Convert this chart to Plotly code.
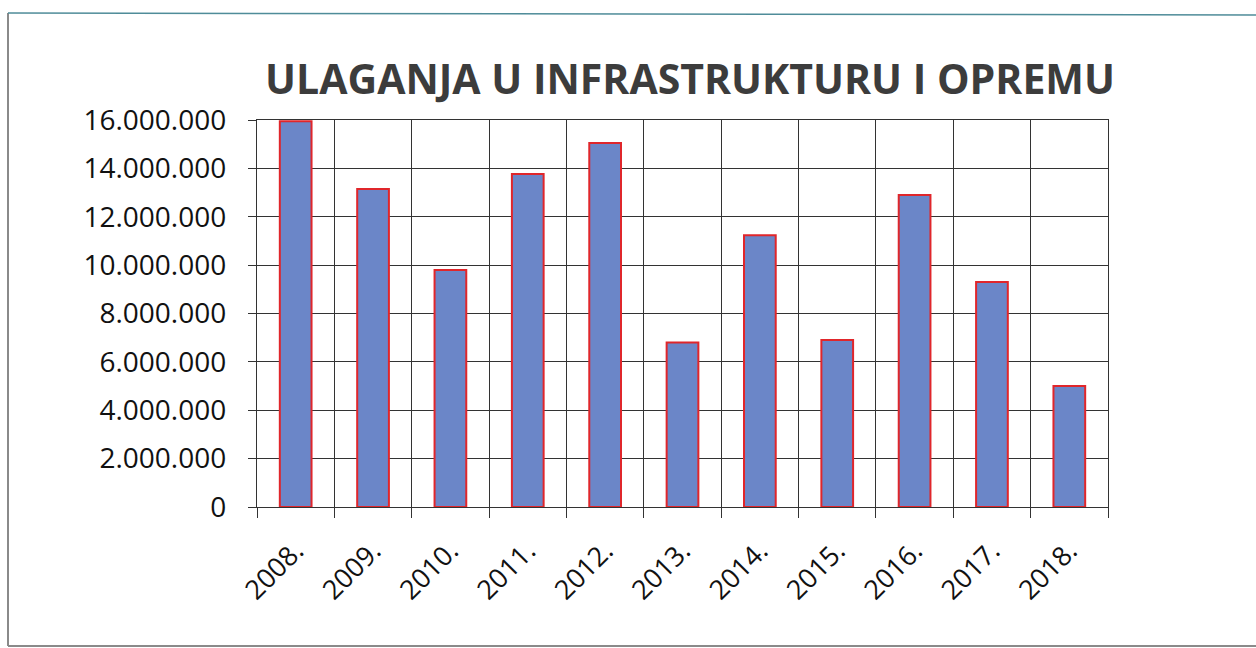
import plotly.graph_objects as go

years = ["2008.", "2009.", "2010.", "2011.", "2012.", "2013.", "2014.", "2015.", "2016.", "2017.", "2018."]
values = [15950000, 13150000, 9800000, 13770000, 15050000, 6800000, 11240000, 6900000, 12900000, 9300000, 5000000]
y_ticks = [0, 2000000, 4000000, 6000000, 8000000, 10000000, 12000000, 14000000, 16000000]
y_labels = ["0", "2.000.000", "4.000.000", "6.000.000", "8.000.000", "10.000.000",
            "12.000.000", "14.000.000", "16.000.000"]
title_text = "ULAGANJA U INFRASTRUKTURU I OPREMU"

W, H = 1256, 648
L, R, T, B = 257, 148, 120, 141
pw, ph = W - L - R, H - T - B

def px_x(x):
    return (x - L) / pw

def px_y(y):
    return (H - B - y) / ph

fig = go.Figure()
fig.add_trace(go.Bar(
    x=years, y=values,
    marker=dict(color="#6B86C8", line=dict(color="#E0262B", width=2)),
    hoverinfo="x+y",
))

grid = "#333333"
fig.update_layout(
    width=W, height=H,
    margin=dict(l=L, r=R, t=T, b=B, autoexpand=False),
    paper_bgcolor="white", plot_bgcolor="white",
    bargap=0.59,
    showlegend=False,
    font=dict(family="Open Sans, Noto Sans, sans-serif", color="#111111"),
    title=dict(
        text="<b>" + title_text + "</b>",
        x=px_x(690), xref="paper", xanchor="center",
        y=1 - 80 / H, yref="container", yanchor="middle",
        font=dict(size=41, color="#3c3c3c", family="Open Sans, sans-serif"),
    ),
    xaxis=dict(
        type="category",
        tickson="boundaries",
        showgrid=True, gridcolor=grid, gridwidth=1.4,
        showline=True, linecolor=grid, linewidth=1.4, mirror=True,
        ticks="outside", ticklen=10, tickcolor=grid, tickwidth=1.4,
        tickangle=-45,
        tickfont=dict(size=27, color="#111111"),
        ticklabelstandoff=16,
        range=[-0.5, len(years) - 0.5],
    ),
    yaxis=dict(
        range=[0, 16000000],
        tickvals=y_ticks, ticktext=y_labels,
        showgrid=True, gridcolor=grid, gridwidth=1.4,
        showline=True, linecolor=grid, linewidth=1.4, mirror=True,
        ticks="outside", ticklen=8, tickcolor=grid, tickwidth=1.4,
        tickfont=dict(size=28, color="#111111"),
        ticklabelstandoff=16,
        zeroline=False,
    ),
    shapes=[
        dict(type="line", xref="paper", yref="paper",
             x0=px_x(8), x1=px_x(8), y0=px_y(13), y1=px_y(646),
             line=dict(color="#8a8a8a", width=2)),
        dict(type="line", xref="paper", yref="paper",
             x0=px_x(8), x1=px_x(1262), y0=px_y(13), y1=px_y(15),
             line=dict(color="#4f8c99", width=1.5)),
        dict(type="line", xref="paper", yref="paper",
             x0=px_x(8), x1=px_x(1262), y0=px_y(646), y1=px_y(646),
             line=dict(color="#8a8a8a", width=2)),
    ],
)

fig.write_html("out.html",
               config={"displayModeBar": False},
               post_script="document.body.style.margin='0';document.body.style.overflow='hidden';")
